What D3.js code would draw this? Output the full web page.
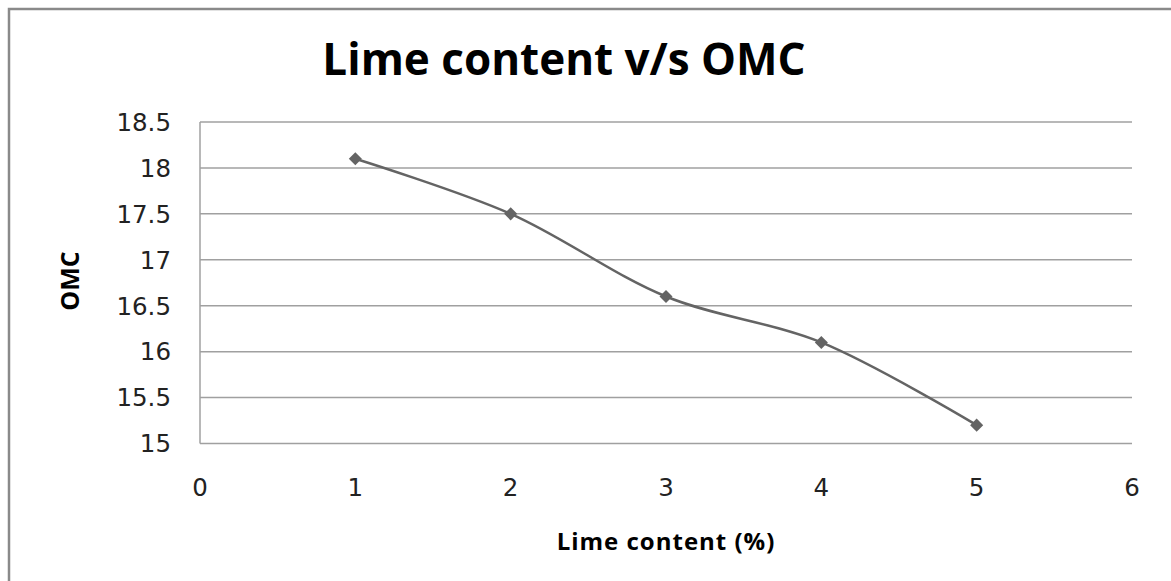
<!DOCTYPE html>
<html><head><meta charset="utf-8">
<script src="https://cdn.jsdelivr.net/npm/d3@7"></script>
<style>html,body{margin:0;padding:0;background:#fff;overflow:hidden}</style>
</head><body>
<svg id="c" width="1171" height="581"></svg>
<script>
const limeContent = [1, 2, 3, 4, 5];
const omcValues = [18.1, 17.5, 16.6, 16.1, 15.2];
const xTicks = [0, 1, 2, 3, 4, 5, 6];
const yTicks = [15, 15.5, 16, 16.5, 17, 17.5, 18, 18.5];
const titleText = "Lime content v/s OMC";
const xTitle = "Lime content (%)";
const yTitle = "OMC";

const svg = d3.select("#c");
svg.append("rect").attr("x", 9).attr("y", 9).attr("width", 1300).attr("height", 700)
  .attr("fill", "#fff").attr("stroke", "#8a8a8a").attr("stroke-width", 2.5);

const x = d3.scaleLinear().domain([0, 6]).range([200, 1132]);
const y = d3.scaleLinear().domain([15, 18.5]).range([443.5, 122]);

// gridlines
svg.append("g").selectAll("line").data(yTicks).join("line")
  .attr("x1", x(0)).attr("x2", x(6))
  .attr("y1", d => y(d)).attr("y2", d => y(d))
  .attr("stroke", "#a0a0a0").attr("stroke-width", 1.5);
// y axis line
svg.append("line").attr("x1", x(0)).attr("x2", x(0)).attr("y1", y(18.5)).attr("y2", y(15))
  .attr("stroke", "#a0a0a0").attr("stroke-width", 1.5);

const tickFont = "'DejaVu Sans', Verdana, sans-serif";
svg.append("g").selectAll("text").data(yTicks).join("text")
  .attr("x", 171).attr("y", d => y(d)).attr("dy", "0.36em")
  .attr("text-anchor", "end").attr("font-family", tickFont).attr("font-size", 24.5)
  .attr("fill", "#222").text(d => d);
svg.append("g").selectAll("text").data(xTicks).join("text")
  .attr("x", d => x(d)).attr("y", 487).attr("dy", "0.36em")
  .attr("text-anchor", "middle").attr("font-family", tickFont).attr("font-size", 24.5)
  .attr("fill", "#222").text(d => d);

// title
svg.append("text").attr("x", 564).attr("y", 75).attr("text-anchor", "middle")
  .attr("font-family", "'Open Sans', sans-serif").attr("font-weight", "bold")
  .attr("font-size", 44).attr("fill", "#000").text(titleText);
svg.append("text").attr("x", 666).attr("y", 550).attr("text-anchor", "middle")
  .attr("font-family", "'Open Sans', sans-serif").attr("font-weight", "bold")
  .attr("font-size", 24).attr("letter-spacing", 1).attr("fill", "#000").text(xTitle);
svg.append("text").attr("transform", "translate(79,281) rotate(-90)").attr("text-anchor", "middle")
  .attr("font-family", "'Open Sans', sans-serif").attr("font-weight", "bold")
  .attr("font-size", 25).attr("fill", "#000").text(yTitle);

const data = limeContent.map((v, i) => ({x: v, y: omcValues[i]}));
const line = d3.line().x(d => x(d.x)).y(d => y(d.y)).curve(d3.curveCatmullRom.alpha(0.5));
svg.append("path").datum(data).attr("d", line).attr("fill", "none")
  .attr("stroke", "#646464").attr("stroke-width", 2.5);

svg.append("g").selectAll("path").data(data).join("path")
  .attr("d", d3.symbol().type(d3.symbolSquare).size(85))
  .attr("transform", d => `translate(${x(d.x)},${y(d.y)}) rotate(45)`)
  .attr("fill", "#646464");
</script>
</body></html>
